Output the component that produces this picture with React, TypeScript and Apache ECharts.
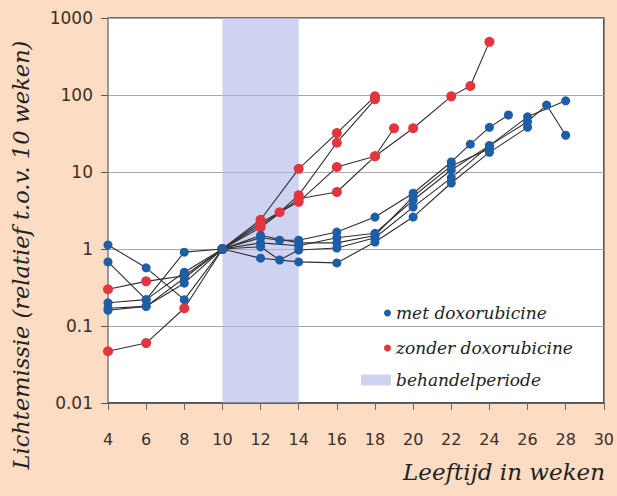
import React, { useEffect, useRef } from "react";
import * as echarts from "echarts";

// weeks / values
const metNames = ["met doxorubicine"];
const blue1: [number, number][] = [[4, 1.13], [6, 0.57], [8, 0.22], [10, 1], [12, 1.4], [13, 1.3], [14, 1.3], [16, 1.66], [18, 2.6], [20, 5.3], [22, 13.5], [23, 23], [24, 38], [25, 55]];
const blue2: [number, number][] = [[4, 0.68], [6, 0.22], [8, 0.91], [10, 1], [12, 1.2], [14, 1.1], [16, 1.4], [18, 1.6], [20, 4.3], [22, 10.6], [24, 22], [26, 52], [28, 84]];
const blue3: [number, number][] = [[4, 0.2], [6, 0.22], [8, 0.5], [10, 1], [12, 1.07], [13, 0.72], [14, 0.97], [16, 1.03], [18, 1.4], [20, 3.5], [22, 8.4], [24, 22], [26, 45], [27, 74], [28, 30]];
const blue4: [number, number][] = [[4, 0.17], [6, 0.18], [8, 0.42], [10, 1], [12, 0.76], [14, 0.68], [16, 0.66], [18, 1.23], [20, 2.6], [22, 7.2], [24, 18], [26, 38]];
const blue5: [number, number][] = [[4, 0.16], [6, 0.18], [8, 0.36], [10, 1], [12, 1.5], [14, 1.2], [16, 1.2], [18, 1.5], [20, 4.8], [22, 12], [24, 20]];

const red1: [number, number][] = [[4, 0.3], [6, 0.38], [8, 0.45], [10, 1], [12, 2.4], [14, 11], [16, 32], [18, 96]];
const red2: [number, number][] = [[4, 0.047], [6, 0.06], [8, 0.17], [10, 1], [12, 2.05], [13, 3], [14, 5], [16, 24], [18, 88]];
const red3: [number, number][] = [[10, 1], [12, 2.2], [14, 4.1], [16, 11.6], [18, 16], [19, 37]];
const red4: [number, number][] = [[10, 1], [12, 1.9], [14, 4.5], [16, 5.5], [18, 16], [20, 37], [22, 96], [23, 131], [24, 490]];

const blueSeries = [blue1, blue2, blue3, blue4, blue5];
const redSeries = [red1, red2, red3, red4];

const treatmentPeriod = [10, 14];
const yTicks = [0.01, 0.1, 1, 10, 100, 1000];

const NAME_MET = metNames[0];
const NAME_ZONDER = "zonder doxorubicine";
const NAME_BAND = "behandelperiode";

const BLUE = "#1d5ea6";
const RED = "#e2353d";
const BAND = "#cdd3f0";
const FONT = "DejaVu Serif";

export default function App() {
  const ref = useRef<HTMLDivElement>(null);
  useEffect(() => {
    if (!ref.current) return;
    const chart = echarts.init(ref.current, null, { renderer: "svg" });
    const lineBase = {
      type: "line" as const,
      symbol: "circle",
      lineStyle: { color: "#2e2e2e", width: 1.1 },
      z: 3,
    };
    const series: any[] = [
      {
        name: NAME_BAND,
        type: "line",
        data: [],
        itemStyle: { color: BAND },
        z: 1,
        markArea: {
          silent: true,
          itemStyle: { color: "#acb6e6", opacity: 0.6 },
          data: [[{ xAxis: treatmentPeriod[0] }, { xAxis: treatmentPeriod[1] }]],
        },
      },
      ...redSeries.map((d) => ({
        ...lineBase,
        name: NAME_ZONDER,
        data: d,
        symbolSize: 10,
        itemStyle: { color: RED },
        z: 3,
      })),
      ...blueSeries.map((d) => ({
        ...lineBase,
        name: NAME_MET,
        data: d,
        symbolSize: 9,
        itemStyle: { color: BLUE },
        z: 4,
      })),
    ];
    chart.setOption({
      animation: false,
      backgroundColor: "transparent",
      grid: {
        left: 108,
        right: 12,
        top: 18,
        bottom: 93,
        show: true,
        backgroundColor: "#ffffff",
        borderColor: "#4a4a4a",
        borderWidth: 1.5,
      },
      legend: [
        {
          data: [NAME_MET, NAME_ZONDER],
          orient: "vertical",
          left: 379,
          top: 298,
          icon: "circle",
          itemWidth: 7,
          itemHeight: 7,
          itemGap: 15,
          textStyle: { fontFamily: FONT, fontStyle: "italic", fontSize: 17, color: "#222", lineHeight: 20 },
        },
        {
          data: [NAME_BAND],
          orient: "vertical",
          left: 356,
          top: 365,
          icon: "rect",
          itemWidth: 30,
          itemHeight: 11,
          textStyle: { fontFamily: FONT, fontStyle: "italic", fontSize: 17, color: "#222", lineHeight: 20 },
        },
      ],
      xAxis: {
        type: "value",
        min: 4,
        max: 30,
        interval: 2,
        axisLine: { show: true, lineStyle: { color: "#4a4a4a", width: 1.5 } },
        axisTick: { show: true, length: 7, lineStyle: { color: "#666" } },
        axisLabel: { margin: 28, fontFamily: "DejaVu Sans", fontSize: 16, color: "#3d2e25" },
        splitLine: { show: false },
      },
      yAxis: {
        type: "log",
        logBase: 10,
        min: yTicks[0],
        max: yTicks[yTicks.length - 1],
        axisLine: { show: true, lineStyle: { color: "#999", width: 2 } },
        axisTick: { show: true, length: 7, lineStyle: { color: "#555" } },
        axisLabel: {
          margin: 15,
          fontFamily: "DejaVu Sans",
          fontSize: 17,
          color: "#3d2e25",
          formatter: (v: number) => String(yTicks.find((t) => Math.abs(t - v) / t < 1e-6) ?? v),
        },
        splitLine: { show: true, lineStyle: { color: "#a8a8a8", width: 1 } },
      },
      graphic: [
        {
          type: "text",
          x: 605,
          y: 472,
          style: {
            text: "Leeftijd in weken",
            fontFamily: FONT,
            fontStyle: "italic",
            fontSize: 23,
            fill: "#222",
            textAlign: "right",
            textVerticalAlign: "middle",
          },
        },
        {
          type: "text",
          x: 21,
          y: 255,
          rotation: Math.PI / 2,
          style: {
            text: "Lichtemissie (relatief t.o.v. 10 weken)",
            fontFamily: FONT,
            fontStyle: "italic",
            fontSize: 22.5,
            fill: "#222",
            textAlign: "center",
            textVerticalAlign: "middle",
          },
        },
      ],
      series,
    });
    return () => chart.dispose();
  }, []);
  return (
    <div
      style={{ position: "fixed", left: 0, top: 0, width: 617, height: 496, background: "#fddcc4" }}
    >
      <div ref={ref} style={{ width: 617, height: 496 }} />
    </div>
  );
}
